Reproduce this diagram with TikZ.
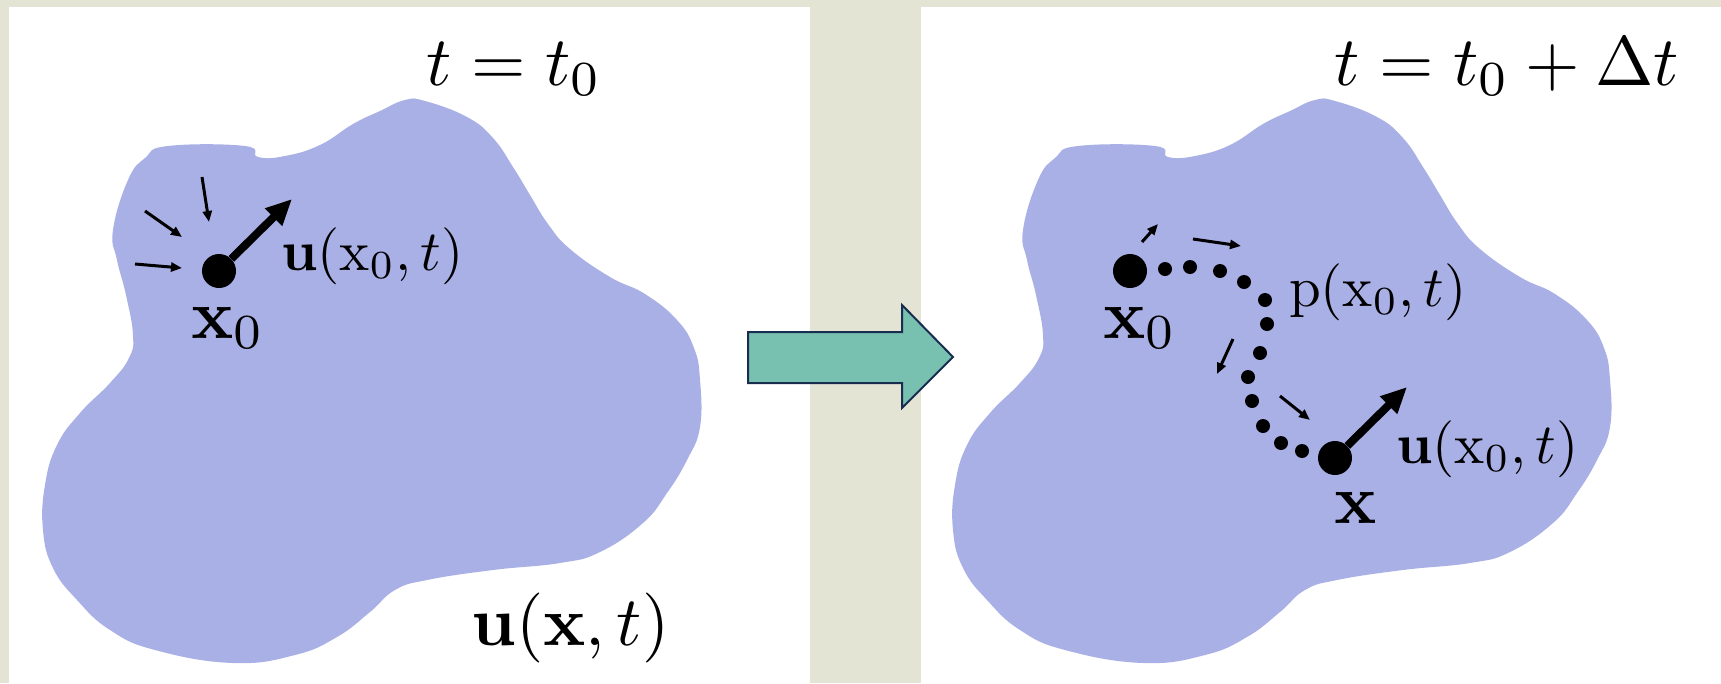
\documentclass[tikz,border=0pt]{standalone}
\usepackage{amsmath}
\usetikzlibrary{arrows.meta}
\definecolor{bgbeige}{RGB}{228,228,212}
\definecolor{blobblue}{RGB}{169,176,230}
\definecolor{arrowfill}{RGB}{120,192,176}
\definecolor{arrowedge}{RGB}{25,45,80}
\newcommand\drawblob[1]{%
  \fill[blobblue,shift={(#1,0)}] plot[smooth cycle,tension=0.75] coordinates {
  (128,180) (145,158) (168,146) (245,146) (258,157) (285,156) (320,145) (353,124)
  (380,111) (405,100) (425,101) (467,117) (493,138) (513,167) (530,195) (548,224)
  (570,249) (610,277) (645,294) (677,320) (694,348) (700,380) (700,427) (687,460)
  (667,493) (643,523) (600,552) (560,563) (493,570) (427,580) (395,590) (370,612)
  (337,637) (295,655) (233,663) (155,650) (110,630) (77,600) (53,568)
  (43,530) (45,485) (57,445) (80,413) (110,383) (129,358) (133,335)
  (126,295) (117,260) (113,230)};}
\begin{document}
\begin{tikzpicture}[x=1pt,y=-1pt,
  bigdot/.style={circle,fill=black,inner sep=0pt,minimum size=34pt},
  smalldot/.style={circle,fill=black,inner sep=0pt,minimum size=14pt},
  bigarrow/.style={line width=8pt,-{Triangle[length=26pt,width=23pt]}},
  smallarrow/.style={line width=3pt,-{Triangle[length=11pt,width=9pt]}},
  biglabel/.style={font=\fontsize{10}{12}\selectfont,scale=7,inner sep=0pt,anchor=base west},
  midlabel/.style={font=\fontsize{10}{12}\selectfont,scale=5.7,inner sep=0pt,anchor=base west}]
\useasboundingbox (0,0) rectangle (1721,683);
\fill[bgbeige] (0,0) rectangle (1721,683);
\fill[white] (9,7) rectangle (810,683);
\fill[white] (921,7) rectangle (1721,683);
% blobs
\drawblob{0}
\drawblob{910}
% block arrow
\draw[fill=arrowfill,draw=arrowedge,line width=2pt,line join=miter]
  (748,332) -- (902,332) -- (902,305) -- (953,357) -- (902,408) -- (902,383) -- (748,383) -- cycle;
% ---------- left panel ----------
\node[biglabel] (tL) at (425,85) {$t = t_0$};
\node[biglabel] (uxt) at (470,645) {$\mathbf{u}(\mathbf{x},t)$};
\node[bigdot] (dL) at (219,271) {};
\coordinate (tipL) at (292,199);
\draw[bigarrow] (dL) -- (tipL);
\node[midlabel] (uL) at (280,270) {$\mathbf{u}(\mathrm{x}_0,t)$};
\node[biglabel] (x0L) at (190,338) {$\mathbf{x}_0$};
\coordinate (a1s) at (135,264); \coordinate (a1e) at (182,268);
\coordinate (a2s) at (145,211); \coordinate (a2e) at (182,237);
\coordinate (a3s) at (202,177); \coordinate (a3e) at (209,222);
\draw[smallarrow] (a1s) -- (a1e);
\draw[smallarrow] (a2s) -- (a2e);
\draw[smallarrow] (a3s) -- (a3e);
% ---------- right panel ----------
\node[biglabel] (tR) at (1333,85) {$t = t_0 + \Delta t$};
\node[bigdot] (dR0) at (1130,271) {};
\node[biglabel] (x0R) at (1102,338) {$\mathbf{x}_0$};
\node[smalldot] (p1) at (1165,269) {};
\node[smalldot] (p2) at (1190,267) {};
\node[smalldot] (p3) at (1220,271) {};
\node[smalldot] (p4) at (1244,282) {};
\node[smalldot] (p5) at (1265,300) {};
\node[smalldot] (p6) at (1267,324) {};
\node[smalldot] (p7) at (1260,353) {};
\node[smalldot] (p8) at (1248,377) {};
\node[smalldot] (p9) at (1252,401) {};
\node[smalldot] (p10) at (1263,426) {};
\node[smalldot] (p11) at (1281,443) {};
\node[smalldot] (p12) at (1302,451) {};
\node[bigdot] (dRx) at (1335,458) {};
\coordinate (tipR) at (1407,387);
\draw[bigarrow] (dRx) -- (tipR);
\node[midlabel] (pL) at (1288,306) {$\mathrm{p}(\mathrm{x}_0,t)$};
\node[midlabel] (uR) at (1395,463) {$\mathbf{u}(\mathrm{x}_0,t)$};
\node[biglabel] (xR) at (1333,523) {$\mathbf{x}$};
\coordinate (b1s) at (1142,242); \coordinate (b1e) at (1158,224);
\coordinate (b2s) at (1193,239); \coordinate (b2e) at (1241,246);
\coordinate (b3s) at (1233,339); \coordinate (b3e) at (1217,374);
\coordinate (b4s) at (1280,396); \coordinate (b4e) at (1310,420);
\draw[smallarrow] (b1s) -- (b1e);
\draw[smallarrow] (b2s) -- (b2e);
\draw[smallarrow] (b3s) -- (b3e);
\draw[smallarrow] (b4s) -- (b4e);
\end{tikzpicture}
\end{document}
